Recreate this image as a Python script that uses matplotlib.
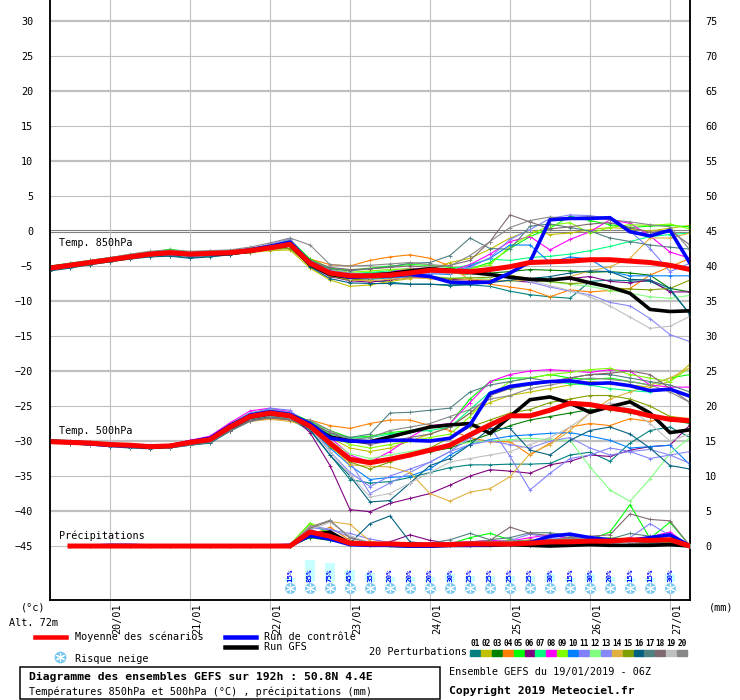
import numpy as np
import matplotlib
matplotlib.use("Agg")
import matplotlib.pyplot as plt
from matplotlib.patches import Rectangle
from matplotlib.lines import Line2D

plt.rcParams['font.family'] = ['DejaVu Sans Mono', 'DejaVu Sans']

# time axis: 6-hourly steps from 19/01/2019 06Z, 192h
hours = np.arange(0, 193, 6)
day_hours = [18, 42, 66, 90, 114, 138, 162, 186]
day_labels = ["20/01", "21/01", "22/01", "23/01", "24/01", "25/01", "26/01", "27/01"]

member_colors = ["#008080", "#c0c000", "#008000", "#ff8000", "#00ff00",
                 "#800080", "#00ff80", "#ff00ff", "#80ff00", "#0080ff",
                 "#8080ff", "#80ff80", "#8888f8", "#e0b040", "#80a000",
                 "#006080", "#508080", "#806870", "#c0c0c0", "#888888"]

# ---------------- Temp 850 hPa (°C) ----------------
t850_p01 = [-5.5, -5.1, -4.7, -4.3, -3.9, -3.6, -3.5, -3.8, -3.6, -3.4, -3.0, -2.6, -2.1,
            -4.9, -6.3, -6.9, -7.1, -7.3, -7.6, -7.6, -7.8, -7.7, -7.9, -8.6, -9.1, -9.4, -9.6, -7.2, -7.0, -7.1, -7.2, -8.5, -11.8]
t850_p02 = [-5.2, -4.9, -4.6, -4.2, -3.8, -3.4, -3.2, -3.4, -3.4, -3.3, -3.1, -2.8, -2.7,
            -5.3, -7.0, -7.9, -7.7, -7.2, -6.8, -5.5, -4.5, -3.9, -2.6, -1.0, 0.1, -0.5, -0.3, 0.2, 0.5, 0.3, 0.0, 0.4, 0.8]
t850_p03 = [-5.4, -5.0, -4.5, -4.1, -3.6, -3.2, -3.0, -3.2, -3.1, -3.0, -2.8, -2.3, -1.8,
            -4.5, -5.8, -6.2, -6.0, -5.9, -5.7, -5.8, -6.0, -6.2, -6.0, -5.8, -5.5, -5.6, -5.7, -5.9, -5.8, -6.0, -6.3, -8.2, -8.7]
t850_p04 = [-5.1, -4.8, -4.5, -4.2, -3.9, -3.5, -3.3, -3.5, -3.4, -3.2, -2.9, -2.4, -1.7,
            -4.0, -4.8, -5.0, -4.2, -3.7, -3.4, -3.9, -5.0, -7.0, -7.6, -8.0, -8.4, -9.4, -8.4, -8.7, -8.5, -8.2, -6.3, -5.1, -3.9]
t850_p05 = [-5.0, -4.6, -4.2, -3.8, -3.4, -3.0, -2.6, -3.0, -3.0, -2.9, -2.6, -2.1, -1.2,
            -4.0, -5.3, -5.6, -5.3, -5.0, -4.8, -4.9, -5.2, -5.4, -4.5, -2.5, -0.8, 0.4, 2.1, 1.5, 0.9, 0.5, 0.7, 0.8, 0.6]
t850_p06 = [-5.6, -5.2, -4.8, -4.4, -3.9, -3.5, -3.3, -3.5, -3.4, -3.2, -3.0, -2.6, -2.2,
            -5.0, -6.5, -7.1, -7.3, -7.0, -6.6, -6.6, -6.9, -7.0, -7.2, -7.1, -7.3, -7.0, -6.8, -6.5, -7.2, -7.4, -7.0, -8.7, -8.7]
t850_p07 = [-5.3, -4.9, -4.4, -4.0, -3.6, -3.2, -3.0, -3.2, -3.1, -3.0, -2.7, -2.2, -1.6,
            -4.4, -5.7, -6.1, -5.9, -5.7, -5.5, -5.7, -5.5, -4.8, -4.0, -4.2, -3.8, -3.6, -3.3, -2.8, -2.2, -1.5, -0.8, -0.5, -0.3]
t850_p08 = [-5.2, -4.8, -4.4, -4.0, -3.6, -3.2, -3.0, -3.3, -3.4, -3.3, -3.0, -2.5, -2.0,
            -4.7, -6.1, -6.5, -6.2, -5.9, -5.3, -5.5, -5.8, -4.8, -3.3, -1.5, -0.8, -2.7, -1.2, -0.1, 1.6, 1.1, -0.7, -3.0, -3.9]
t850_p09 = [-5.0, -4.7, -4.3, -3.9, -3.5, -3.1, -2.9, -3.1, -3.0, -2.9, -2.7, -2.2, -1.5,
            -4.3, -5.5, -5.9, -5.7, -5.5, -5.4, -5.6, -5.9, -5.4, -4.8, -2.2, -0.5, 0.8, 1.2, -0.3, 0.5, 0.9, 0.8, 1.0, 0.3]
t850_p10 = [-5.4, -5.0, -4.6, -4.2, -3.8, -3.4, -3.3, -3.6, -3.5, -3.3, -2.9, -2.4, -1.8,
            -4.6, -6.0, -6.6, -6.9, -6.7, -6.5, -6.1, -6.2, -5.0, -3.9, -2.0, -2.0, -4.5, -3.7, -4.0, -5.8, -6.4, -6.4, -6.4, -6.4]
t850_p11 = [-5.3, -4.8, -4.3, -3.9, -3.5, -3.2, -3.1, -3.3, -3.2, -3.0, -2.6, -2.0, -1.3,
            -4.5, -5.9, -6.4, -6.5, -6.3, -6.0, -6.0, -5.9, -5.2, -3.8, -1.2, 0.2, 1.8, 2.3, 2.2, 1.8, 0.0, -2.5, -5.8, -4.6]
t850_p12 = [-5.5, -5.0, -4.6, -4.1, -3.7, -3.3, -3.2, -3.4, -3.3, -3.2, -2.9, -2.5, -2.0,
            -4.6, -6.1, -6.7, -6.6, -6.4, -6.3, -6.5, -6.7, -6.6, -6.9, -7.2, -7.0, -7.3, -7.6, -7.9, -8.5, -8.9, -9.4, -9.6, -9.2]
t850_p13 = [-5.2, -4.7, -4.3, -3.9, -3.5, -3.1, -3.0, -3.2, -3.1, -3.0, -2.5, -1.9, -1.1,
            -4.4, -5.6, -6.0, -6.2, -6.0, -5.8, -5.9, -6.0, -5.7, -6.1, -6.4, -7.3, -8.0, -8.6, -9.1, -10.2, -10.7, -12.5, -14.8, -15.8]
t850_p14 = [-5.6, -5.2, -4.8, -4.4, -4.0, -3.6, -3.4, -3.6, -3.5, -3.3, -3.0, -2.7, -2.4,
            -4.8, -6.3, -7.0, -7.1, -6.9, -6.7, -6.8, -7.1, -6.9, -7.0, -7.1, -7.0, -7.2, -6.5, -5.7, -5.1, -3.9, -1.0, -1.0, -0.3]
t850_p15 = [-5.3, -5.0, -4.6, -4.2, -3.8, -3.4, -3.2, -3.4, -3.3, -3.1, -2.9, -2.6, -2.5,
            -4.9, -6.4, -7.0, -6.8, -6.6, -6.4, -6.5, -6.8, -6.7, -6.6, -6.3, -6.8, -7.2, -7.5, -7.4, -8.1, -8.3, -8.4, -8.2, -7.0]
t850_p16 = [-5.7, -5.3, -4.8, -4.4, -4.0, -3.7, -3.6, -3.9, -3.7, -3.4, -3.0, -2.5, -2.0,
            -5.1, -6.8, -7.4, -7.5, -7.5, -7.6, -7.6, -7.7, -7.6, -7.4, -7.0, -6.8, -6.5, -6.0, -5.7, -5.8, -6.9, -7.0, -8.2, -12.0]
t850_p17 = [-5.1, -4.7, -4.3, -3.9, -3.5, -3.1, -2.9, -3.1, -3.0, -2.9, -2.6, -2.1, -1.4,
            -4.3, -5.4, -5.7, -5.4, -5.1, -4.6, -4.5, -3.5, -1.0, -2.5, -2.6, 0.7, 1.0, 0.5, 0.0, -1.0, -1.5, -2.0, -2.3, -2.6]
t850_p18 = [-5.0, -4.6, -4.2, -3.8, -3.4, -3.0, -2.8, -3.0, -2.9, -2.8, -2.5, -2.0, -1.5,
            -4.2, -5.2, -5.5, -5.4, -5.2, -5.0, -5.2, -4.9, -4.2, -1.5, 2.3, 1.3, 0.3, 0.6, 1.0, 1.2, 0.5, -0.2, 0.1, -2.0]
t850_p19 = [-5.4, -5.0, -4.6, -4.1, -3.7, -3.3, -3.1, -3.3, -3.2, -3.1, -2.8, -2.4, -1.9,
            -4.7, -6.2, -6.8, -6.7, -6.4, -6.0, -5.8, -6.0, -6.1, -6.4, -6.7, -7.1, -7.8, -8.5, -9.4, -10.7, -12.3, -13.9, -13.6, -12.2]
t850_p20 = [-5.1, -4.7, -4.2, -3.8, -3.3, -2.9, -2.7, -2.9, -2.8, -2.7, -2.3, -1.7, -1.0,
            -2.0, -4.8, -5.0, -4.9, -4.7, -4.5, -4.8, -5.0, -3.5, -1.5, 0.5, 1.5, 2.0, 1.8, 2.1, 1.6, 1.3, 0.9, 0.6, -2.7]
t850_ctrl = [-5.3, -4.9, -4.5, -4.1, -3.7, -3.3, -3.2, -3.4, -3.3, -3.1, -2.7, -2.2, -1.6,
             -4.5, -6.0, -6.6, -6.5, -6.4, -6.2, -6.5, -7.3, -7.4, -7.3, -6.0, -4.4, 1.6, 1.8, 1.8, 1.9, -0.1, -0.7, 0.1, -4.6]
t850_gfs = [-5.2, -4.9, -4.5, -4.1, -3.7, -3.3, -3.1, -3.3, -3.3, -3.2, -2.9, -2.4, -2.0,
            -4.8, -6.2, -6.6, -6.4, -6.1, -5.7, -5.4, -5.6, -5.9, -6.2, -6.6, -6.9, -7.0, -6.7, -7.4, -8.0, -8.9, -11.2, -11.5, -11.4]
t850_mean = [-5.3, -4.9, -4.5, -4.1, -3.7, -3.3, -3.1, -3.3, -3.2, -3.1, -2.8, -2.4, -1.9,
             -4.6, -6.0, -6.4, -6.4, -6.3, -6.0, -5.6, -5.7, -5.8, -5.5, -5.1, -4.5, -4.4, -4.3, -4.1, -4.1, -4.3, -4.5, -4.9, -5.5]

# ---------------- Temp 500 hPa (°C) ----------------
t500_p01 = [-30.2, -30.3, -30.5, -30.7, -30.8, -31.0, -30.9, -30.5, -30.1, -28.5, -27.0, -26.4, -26.9,
            -28.5, -32.0, -35.5, -36.0, -35.8, -35.2, -34.5, -33.8, -33.4, -33.4, -33.3, -33.3, -33.2, -32.0, -31.6, -32.9, -30.3, -28.5, -28.0, -29.5]
t500_p02 = [-30.0, -30.1, -30.2, -30.4, -30.5, -30.7, -30.6, -30.1, -29.6, -27.9, -26.4, -26.1, -26.6,
            -27.5, -29.5, -31.0, -31.5, -31.0, -30.0, -29.0, -28.0, -26.0, -24.5, -23.5, -23.0, -22.5, -22.0, -21.5, -21.8, -22.0, -22.3, -21.5, -19.0]
t500_p03 = [-30.1, -30.2, -30.3, -30.5, -30.7, -30.9, -30.8, -30.3, -29.9, -28.2, -26.7, -26.2, -26.5,
            -28.0, -30.5, -32.5, -33.0, -32.5, -32.0, -31.5, -31.0, -30.0, -29.0, -27.8, -27.0, -26.5, -26.0, -25.5, -25.5, -26.0, -26.5, -27.0, -27.5]
t500_p04 = [-30.3, -30.4, -30.5, -30.6, -30.7, -30.9, -30.7, -30.2, -29.8, -28.4, -27.1, -26.8, -27.0,
            -27.0, -27.8, -28.2, -27.5, -27.0, -27.0, -27.8, -28.5, -29.5, -30.1, -30.1, -32.0, -30.3, -28.0, -27.5, -27.8, -26.8, -27.2, -26.5, -26.8]
t500_p05 = [-29.9, -30.0, -30.2, -30.4, -30.5, -30.7, -30.6, -30.0, -29.4, -27.6, -26.0, -25.4, -25.9,
            -27.2, -28.5, -29.5, -29.3, -28.8, -28.5, -28.0, -27.5, -24.0, -21.5, -21.0, -21.0, -20.5, -21.0, -21.2, -21.0, -21.5, -22.0, -21.0, -20.5]
t500_p06 = [-30.1, -30.3, -30.4, -30.6, -30.8, -31.0, -30.8, -30.3, -29.8, -28.0, -26.4, -25.8, -26.2,
            -28.8, -33.5, -39.8, -40.1, -38.9, -38.2, -37.5, -36.3, -35.0, -34.1, -34.3, -34.6, -33.4, -32.9, -32.0, -32.2, -31.3, -30.8, -30.6, -27.7]
t500_p07 = [-30.0, -30.1, -30.3, -30.5, -30.6, -30.8, -30.6, -30.1, -29.7, -28.0, -26.6, -26.1, -26.3,
            -27.5, -29.0, -29.6, -29.5, -29.0, -28.7, -28.5, -28.0, -25.5, -23.0, -22.5, -22.0, -21.5, -21.8, -22.0, -22.5, -22.8, -23.0, -22.5, -23.5]
t500_p08 = [-29.9, -30.0, -30.2, -30.3, -30.5, -30.6, -30.5, -29.9, -29.3, -27.4, -25.7, -25.3, -25.8,
            -27.6, -29.5, -32.0, -33.0, -31.5, -29.5, -27.8, -27.5, -24.5, -21.5, -20.5, -20.0, -19.8, -20.0, -20.2, -19.8, -20.0, -22.0, -22.3, -22.3]
t500_p09 = [-30.0, -30.1, -30.2, -30.4, -30.6, -30.8, -30.7, -30.1, -29.6, -27.8, -26.2, -25.6, -26.0,
            -27.4, -29.2, -30.5, -31.0, -30.5, -30.0, -29.5, -29.0, -26.5, -23.5, -21.5, -21.0, -20.5, -20.2, -19.8, -19.6, -20.5, -21.0, -21.5, -19.5]
t500_p10 = [-30.2, -30.3, -30.4, -30.6, -30.7, -30.9, -30.8, -30.3, -29.9, -28.3, -26.8, -26.3, -26.6,
            -28.2, -31.0, -33.5, -35.5, -35.2, -35.0, -34.0, -32.0, -30.5, -29.8, -29.3, -29.1, -28.9, -28.8, -29.3, -29.9, -31.0, -30.8, -30.6, -33.4]
t500_p11 = [-30.1, -30.2, -30.4, -30.5, -30.7, -30.8, -30.7, -30.2, -29.7, -27.9, -26.2, -25.3, -25.6,
            -28.0, -31.5, -34.5, -36.5, -35.0, -34.0, -33.0, -31.5, -29.5, -27.9, -32.2, -37.0, -34.6, -32.5, -32.0, -31.0, -31.5, -32.5, -32.0, -33.2]
t500_p12 = [-30.1, -30.2, -30.3, -30.5, -30.6, -30.8, -30.6, -30.2, -29.7, -28.1, -26.6, -26.0, -26.3,
            -27.8, -30.0, -31.8, -32.5, -32.0, -31.5, -31.0, -30.5, -30.2, -30.0, -29.8, -29.6, -29.8, -29.9, -33.7, -37.0, -38.6, -35.4, -31.8, -29.5]
t500_p13 = [-30.0, -30.1, -30.3, -30.4, -30.6, -30.7, -30.6, -30.1, -29.6, -27.7, -26.0, -25.5, -25.9,
            -27.5, -30.0, -33.0, -37.5, -36.0, -34.5, -33.0, -31.5, -30.5, -30.0, -30.5, -31.0, -30.0, -29.5, -31.0, -32.0, -31.5, -31.2, -32.0, -31.5]
t500_p14 = [-30.2, -30.4, -30.5, -30.7, -30.8, -31.0, -30.9, -30.4, -30.0, -28.5, -27.2, -26.9, -27.2,
            -28.0, -30.5, -33.4, -33.6, -33.7, -34.5, -37.5, -38.6, -37.3, -36.8, -35.1, -31.8, -30.5, -28.5, -26.0, -24.0, -23.0, -22.0, -21.0, -19.5]
t500_p15 = [-30.1, -30.3, -30.4, -30.6, -30.8, -30.9, -30.8, -30.3, -29.9, -28.4, -27.0, -26.6, -26.9,
            -27.9, -30.8, -33.0, -34.0, -33.0, -32.0, -31.0, -29.5, -28.0, -27.0, -26.0, -25.5, -24.5, -24.0, -23.5, -23.5, -24.0, -25.0, -26.5, -27.0]
t500_p16 = [-30.3, -30.4, -30.6, -30.8, -31.0, -31.1, -31.0, -30.6, -30.3, -28.6, -27.0, -26.5, -26.8,
            -28.3, -32.0, -35.0, -38.7, -38.5, -36.0, -33.5, -32.5, -30.5, -28.2, -28.2, -31.3, -32.0, -29.9, -28.5, -28.0, -29.0, -31.0, -33.5, -34.0]
t500_p17 = [-30.0, -30.2, -30.3, -30.5, -30.7, -30.9, -30.9, -30.6, -30.2, -28.6, -27.2, -26.6, -26.8,
            -27.3, -28.8, -29.5, -29.0, -26.0, -25.9, -25.6, -25.3, -23.0, -22.0, -21.5, -21.0, -21.5, -21.0, -20.5, -20.5, -21.0, -21.5, -22.0, -23.0]
t500_p18 = [-30.1, -30.2, -30.4, -30.6, -30.7, -30.9, -30.8, -30.4, -30.0, -28.5, -27.1, -26.7, -27.0,
            -27.4, -28.8, -30.0, -30.5, -30.0, -29.5, -29.0, -28.0, -26.0, -23.5, -22.5, -22.0, -21.5, -21.0, -20.5, -20.3, -20.0, -20.5, -22.5, -24.5]
t500_p19 = [-30.2, -30.3, -30.5, -30.6, -30.8, -30.9, -30.8, -30.3, -29.9, -28.2, -26.7, -26.3, -26.7,
            -28.1, -31.5, -34.8, -38.0, -37.5, -36.0, -34.5, -33.0, -32.5, -32.0, -31.5, -30.5, -29.5, -28.0, -26.0, -24.5, -25.5, -27.5, -30.0, -29.0]
t500_p20 = [-30.0, -30.1, -30.2, -30.4, -30.6, -30.8, -30.7, -30.3, -29.9, -28.3, -26.9, -26.4, -26.7,
            -27.0, -28.5, -29.8, -29.5, -28.5, -28.0, -27.5, -26.5, -25.5, -24.0, -23.5, -22.5, -22.0, -21.5, -21.0, -21.2, -21.5, -22.0, -23.0, -24.5]
t500_ctrl = [-30.1, -30.2, -30.4, -30.6, -30.7, -30.8, -30.7, -30.1, -29.6, -27.8, -26.3, -25.8, -26.2,
             -27.5, -29.6, -30.0, -30.1, -29.9, -29.9, -30.0, -29.6, -27.7, -23.2, -22.2, -21.8, -21.5, -21.4, -21.8, -21.7, -22.1, -22.8, -22.6, -23.6]
t500_gfs = [-30.0, -30.1, -30.3, -30.5, -30.6, -30.9, -30.7, -30.2, -29.7, -28.1, -26.6, -26.1, -26.4,
            -27.7, -29.4, -30.0, -30.1, -29.4, -28.7, -28.0, -27.7, -27.5, -28.9, -26.5, -24.1, -23.7, -24.6, -25.9, -25.1, -24.4, -26.0, -28.8, -28.4]
t500_mean = [-30.1, -30.2, -30.3, -30.5, -30.6, -30.8, -30.7, -30.2, -29.8, -28.0, -26.5, -26.0, -26.4,
             -27.9, -30.3, -32.6, -33.1, -32.6, -32.0, -31.3, -30.6, -29.1, -27.7, -26.4, -26.4, -25.6, -24.6, -24.8, -25.3, -25.7, -26.4, -26.9, -27.1]

# ---------------- Precipitation (mm / 6h), from +6h ----------------
pr_p01 = [0, 0, 0, 0, 0, 0, 0, 0, 0, 0, 0, 0.1,
          1.9, 1.2, 0.3, 0.2, 0.2, 0.1, 0.1, 0.2, 0.3, 0.2, 0.3, 0.2, 0.4, 0.5, 0.3, 0.4, 0.6, 0.5, 0.3, 0.0]
pr_p02 = [0, 0, 0, 0, 0, 0, 0, 0, 0, 0, 0, 0.0,
          1.6, 1.0, 0.2, 0.1, 0.1, 0.1, 0.2, 0.2, 0.3, 0.5, 0.6, 0.9, 0.7, 0.8, 0.6, 0.5, 0.7, 0.6, 0.4, 0.0]
pr_p03 = [0, 0, 0, 0, 0, 0, 0, 0, 0, 0, 0, 0.0,
          1.2, 0.8, 0.2, 0.1, 0.1, 0.1, 0.1, 0.2, 0.2, 0.3, 0.2, 0.3, 0.5, 0.6, 0.7, 0.6, 0.5, 0.4, 0.3, 0.0]
pr_p04 = [0, 0, 0, 0, 0, 0, 0, 0, 0, 0, 0, 0.1,
          1.5, 2.7, 0.8, 0.4, 0.3, 0.2, 0.1, 0.2, 0.3, 0.4, 0.3, 0.5, 0.4, 0.6, 0.8, 0.7, 0.6, 0.8, 0.5, 0.0]
pr_p05 = [0, 0, 0, 0, 0, 0, 0, 0, 0, 0, 0, 0.2,
          3.2, 1.8, 0.4, 0.2, 0.2, 0.3, 0.2, 0.3, 1.2, 1.8, 0.9, 0.6, 0.5, 0.7, 0.9, 2.0, 5.9, 1.1, 3.4, 0.0]
pr_p06 = [0, 0, 0, 0, 0, 0, 0, 0, 0, 0, 0, 0.0,
          1.4, 1.5, 0.5, 0.3, 0.6, 1.6, 0.8, 0.4, 0.2, 0.3, 0.2, 0.2, 0.3, 0.4, 0.5, 0.6, 0.5, 0.4, 0.3, 0.0]
pr_p07 = [0, 0, 0, 0, 0, 0, 0, 0, 0, 0, 0, 0.1,
          1.8, 1.1, 0.3, 0.2, 0.1, 0.2, 0.3, 0.5, 0.4, 0.6, 0.5, 0.4, 0.6, 0.7, 0.8, 0.6, 0.7, 0.8, 0.9, 0.0]
pr_p08 = [0, 0, 0, 0, 0, 0, 0, 0, 0, 0, 0, 0.1,
          2.1, 1.6, 0.6, 0.3, 0.3, 0.2, 0.3, 0.5, 0.6, 0.8, 0.7, 1.2, 1.6, 1.0, 0.7, 0.8, 1.0, 1.3, 2.0, 0.0]
pr_p09 = [0, 0, 0, 0, 0, 0, 0, 0, 0, 0, 0, 0.2,
          3.3, 2.0, 0.5, 0.3, 0.2, 0.1, 0.2, 0.4, 0.3, 0.5, 0.6, 0.7, 0.5, 0.6, 0.8, 1.2, 1.0, 0.9, 1.1, 0.0]
pr_p10 = [0, 0, 0, 0, 0, 0, 0, 0, 0, 0, 0, 0.1,
          2.4, 1.3, 0.4, 0.3, 0.2, 0.1, 0.3, 0.4, 0.5, 0.4, 0.3, 0.5, 0.6, 0.7, 0.5, 0.6, 0.8, 0.9, 0.7, 0.0]
pr_p11 = [0, 0, 0, 0, 0, 0, 0, 0, 0, 0, 0, 0.1,
          2.6, 2.3, 1.8, 1.0, 0.5, 0.3, 0.2, 0.3, 0.4, 0.5, 0.8, 1.7, 1.2, 0.9, 0.8, 0.7, 1.2, 3.2, 1.5, 0.0]
pr_p12 = [0, 0, 0, 0, 0, 0, 0, 0, 0, 0, 0, 0.0,
          2.0, 1.4, 0.3, 0.2, 0.1, 0.1, 0.2, 0.3, 0.4, 0.3, 0.5, 0.4, 0.5, 0.4, 0.3, 0.5, 0.6, 0.4, 0.5, 0.0]
pr_p13 = [0, 0, 0, 0, 0, 0, 0, 0, 0, 0, 0, 0.1,
          2.9, 2.4, 1.3, 0.5, 0.3, 0.2, 0.3, 0.4, 0.3, 0.5, 0.4, 0.6, 0.7, 0.8, 0.6, 0.9, 0.8, 1.0, 0.8, 0.0]
pr_p14 = [0, 0, 0, 0, 0, 0, 0, 0, 0, 0, 0, 0.1,
          2.8, 3.5, 3.1, 0.7, 0.3, 0.2, 0.2, 0.3, 0.4, 0.3, 0.4, 0.5, 0.7, 0.9, 1.0, 0.8, 0.7, 0.6, 0.5, 0.0]
pr_p15 = [0, 0, 0, 0, 0, 0, 0, 0, 0, 0, 0, 0.0,
          1.7, 1.2, 0.3, 0.2, 0.1, 0.1, 0.2, 0.3, 0.4, 0.5, 0.6, 0.8, 0.9, 1.0, 0.9, 0.8, 0.6, 0.7, 0.6, 0.0]
pr_p16 = [0, 0, 0, 0, 0, 0, 0, 0, 0, 0, 0, 0.0,
          1.3, 0.9, 0.4, 3.2, 4.3, 0.6, 0.3, 0.2, 0.3, 0.4, 0.3, 0.5, 0.4, 0.6, 0.5, 0.7, 0.6, 0.5, 0.4, 0.0]
pr_p17 = [0, 0, 0, 0, 0, 0, 0, 0, 0, 0, 0, 0.1,
          2.2, 1.7, 0.6, 0.4, 0.3, 0.2, 0.4, 0.9, 1.8, 0.9, 1.2, 1.9, 1.9, 1.5, 1.2, 1.0, 1.8, 1.4, 1.0, 0.0]
pr_p18 = [0, 0, 0, 0, 0, 0, 0, 0, 0, 0, 0, 0.2,
          2.5, 3.6, 1.2, 0.5, 0.4, 0.3, 0.3, 0.5, 0.6, 0.8, 2.7, 1.8, 1.5, 1.2, 1.4, 1.6, 4.6, 3.8, 3.6, 0.0]
pr_p19 = [0, 0, 0, 0, 0, 0, 0, 0, 0, 0, 0, 0.1,
          2.3, 3.4, 1.5, 0.4, 0.3, 0.2, 0.2, 0.3, 0.5, 0.4, 0.6, 0.5, 0.8, 0.7, 0.9, 0.6, 0.5, 0.7, 0.8, 0.0]
pr_p20 = [0, 0, 0, 0, 0, 0, 0, 0, 0, 0, 0, 0.2,
          2.7, 3.7, 1.1, 0.5, 0.4, 0.2, 0.3, 0.4, 0.5, 0.6, 0.8, 0.7, 0.9, 1.1, 1.0, 0.9, 0.8, 0.9, 0.7, 0.0]
pr_ctrl = [0, 0, 0.1, 0.1, 0, 0, 0, 0, 0, 0, 0, 0.1,
           1.5, 1.0, 0.2, 0.1, 0.1, 0.0, 0.0, 0.1, 0.1, 0.2, 0.3, 0.5, 1.4, 1.7, 1.2, 0.9, 0.8, 1.2, 1.6, 0.0]
pr_gfs = [0, 0, 0, 0, 0, 0, 0, 0, 0, 0, 0, 0.0,
          1.6, 2.0, 0.4, 0.2, 0.1, 0.0, 0.0, 0.1, 0.1, 0.1, 0.2, 0.1, 0.0, 0.1, 0.2, 0.1, 0.1, 0.1, 0.2, 0.0]
pr_mean = [0, 0, 0, 0, 0, 0, 0, 0, 0, 0, 0, 0.0,
           2.0, 1.4, 0.4, 0.3, 0.3, 0.2, 0.2, 0.2, 0.3, 0.3, 0.3, 0.4, 0.6, 0.6, 0.7, 0.7, 0.9, 0.8, 0.9, 0.0]

# snow risk (%) from +72h to +186h
snow_hours = [72, 78, 84, 90, 96, 102, 108, 114, 120, 126,
              132, 138, 144, 150, 156, 162, 168, 174, 180, 186]
snow_pct = [15, 85, 75, 45, 35, 20, 20, 20, 30, 25,
            25, 25, 25, 30, 15, 30, 20, 15, 15, 30]

t850_members = [t850_p01, t850_p02, t850_p03, t850_p04, t850_p05, t850_p06, t850_p07,
                t850_p08, t850_p09, t850_p10, t850_p11, t850_p12, t850_p13, t850_p14,
                t850_p15, t850_p16, t850_p17, t850_p18, t850_p19, t850_p20]
t500_members = [t500_p01, t500_p02, t500_p03, t500_p04, t500_p05, t500_p06, t500_p07,
                t500_p08, t500_p09, t500_p10, t500_p11, t500_p12, t500_p13, t500_p14,
                t500_p15, t500_p16, t500_p17, t500_p18, t500_p19, t500_p20]
pr_members = [pr_p01, pr_p02, pr_p03, pr_p04, pr_p05, pr_p06, pr_p07,
              pr_p08, pr_p09, pr_p10, pr_p11, pr_p12, pr_p13, pr_p14,
              pr_p15, pr_p16, pr_p17, pr_p18, pr_p19, pr_p20]

W, H = 740, 700
PX = 0.72  # one pixel in points at dpi 100


def fx(x):
    return x / W


def fy(y):
    return 1 - y / H


fig = plt.figure(figsize=(W / 100, H / 100), dpi=100)
ax = fig.add_axes([fx(50), fy(600), 640 / W, 600 / H])
ax.set_xlim(0, 192)
ax.set_ylim(-52.71, 33)
ax2 = ax.twinx()
ax2.set_ylim(-52.71 + 45, 33 + 45)

# grid
for v in range(-45, 31, 5):
    if v == 0:
        ax.axhline(0.15, color="#808080", lw=1.1 * PX, zorder=1)
        ax.axhline(-0.15, color="#808080", lw=1.1 * PX, zorder=1)
    elif v % 10 == 0:
        ax.axhline(v, color="#c0c0c0", lw=2.2 * PX, zorder=1)
    else:
        ax.axhline(v, color="#c0c0c0", lw=1.1 * PX, zorder=1)
ax.set_xticks(day_hours)
ax.set_xticklabels([])
ax.grid(axis="x", color="#c0c0c0", lw=1.1 * PX, zorder=1)
ax.tick_params(axis="x", length=10 * PX, color="#c0c0c0", width=1.1 * PX)
for h, lab in zip(day_hours, day_labels):
    ax.text(h + 2.1, -0.005, lab, transform=ax.get_xaxis_transform(), rotation=90,
            ha="center", va="top", fontsize=7.3)

ax.set_yticks(range(-45, 31, 5))
ax.tick_params(axis="y", length=0, pad=12, labelsize=7.3)
ax2.set_yticks(range(0, 76, 5))
ax2.tick_params(axis="y", length=0, pad=11, labelsize=7.3)

for a in (ax, ax2):
    a.spines["top"].set_visible(False)
    for s in ("left", "right", "bottom"):
        a.spines[s].set_color("black")
        a.spines[s].set_linewidth(1.5 * PX)

# snow risk bars, labels and icons
ax.bar(snow_hours, [p * 0.26 / 7 for p in snow_pct], width=3.0, bottom=-50.14,
       color="#c8ffff", zorder=2)
for h, p in zip(snow_hours, snow_pct):
    ax.text(h, -50.1, f"{p}%", rotation=90, ha="center", va="bottom",
            fontsize=5.3, color="#0000ff", fontweight="bold", zorder=3)
ax.scatter(snow_hours, [-51.05] * len(snow_hours), s=62, color="#78c8f0", zorder=3,
           linewidths=0)
ax.scatter(snow_hours, [-51.05] * len(snow_hours), s=38, marker=(6, 2, 0), color="white",
           linewidths=0.8, zorder=4)

# members
mk = dict(marker="+", markersize=3.2, markeredgewidth=0.6)
for c, t8, t5 in zip(member_colors, t850_members, t500_members):
    ax.plot(hours, t8, color=c, lw=1.1 * PX, zorder=3, **mk)
    ax.plot(hours, t5, color=c, lw=1.1 * PX, zorder=3, **mk)
for c, p in zip(member_colors, pr_members):
    ax2.plot(hours[1:], p, color=c, lw=1.1 * PX, zorder=3, **mk)

# GFS, control, mean
for t in (t850_gfs, t500_gfs):
    ax.plot(hours, t, color="black", lw=3.6 * PX, zorder=5)
ax2.plot(hours[1:], pr_gfs, color="black", lw=3.6 * PX, zorder=5)
for t in (t850_ctrl, t500_ctrl):
    ax.plot(hours, t, color="#0000ff", lw=3.6 * PX, zorder=6)
ax2.plot(hours[1:], pr_ctrl, color="#0000ff", lw=3.6 * PX, zorder=6)
for t in (t850_mean, t500_mean):
    ax.plot(hours, t, color="#ff0000", lw=5 * PX, zorder=7)
ax2.plot(hours[1:], pr_mean, color="#ff0000", lw=5 * PX, zorder=7)


def ftext(x, y, s, **kw):
    kw.setdefault("fontsize", 7.3)
    kw.setdefault("va", "center")
    fig.text(fx(x), fy(y), s, **kw)


ftext(59, 243, "Temp. 850hPa")
ftext(59, 431, "Temp. 500hPa")
ftext(59, 536, "Précipitations")
ftext(21, 607, "(°c)")
ftext(9, 623, "Alt. 72m")
ftext(709, 607, "(mm)")

# legend
fig.add_artist(Line2D([fx(35), fx(66)], [fy(637)] * 2, color="#ff0000", lw=4.5 * PX))
ftext(75, 637, "Moyenne des scénarios")
fig.add_artist(Line2D([fx(225), fx(256)], [fy(637)] * 2, color="#0000ff", lw=4.5 * PX))
ftext(264, 637, "Run de contrôle")
fig.add_artist(Line2D([fx(225), fx(256)], [fy(647)] * 2, color="black", lw=4.5 * PX))
ftext(264, 647, "Run GFS")
fig.add_artist(Line2D([fx(60)], [fy(657)], marker="o", markersize=8.5,
                      markerfacecolor="#78c8f0", markeredgewidth=0, linestyle="none"))
fig.add_artist(Line2D([fx(60)], [fy(657)], marker=(6, 2, 0), markersize=6.5,
                      color="white", markeredgewidth=0.8, linestyle="none"))
ftext(75, 659, "Risque neige")

ftext(369, 652, "20 Perturbations")
for k, c in enumerate(member_colors):
    x0 = 470 + k * 10.9
    fig.add_artist(Rectangle((fx(x0), fy(656)), 10 / W, 6 / H, color=c,
                             transform=fig.transFigure))
    ftext(x0 + 5, 643, f"{k + 1:02d}", fontsize=5.6, fontweight="bold", ha="center")

fig.add_artist(Rectangle((fx(20), fy(699)), 420 / W, 32 / H, fill=False,
                         edgecolor="black", lw=1.5 * PX, transform=fig.transFigure))
ftext(29, 677, "Diagramme des ensembles GEFS sur 192h : 50.8N 4.4E",
      fontsize=8.2, fontweight="bold")
ftext(29, 692, "Températures 850hPa et 500hPa (°C) , précipitations (mm)")
ftext(449, 672, "Ensemble GEFS du 19/01/2019 - 06Z")
ftext(449, 691, "Copyright 2019 Meteociel.fr", fontsize=8.2, fontweight="bold")

fig.savefig("out.png", dpi=100)
